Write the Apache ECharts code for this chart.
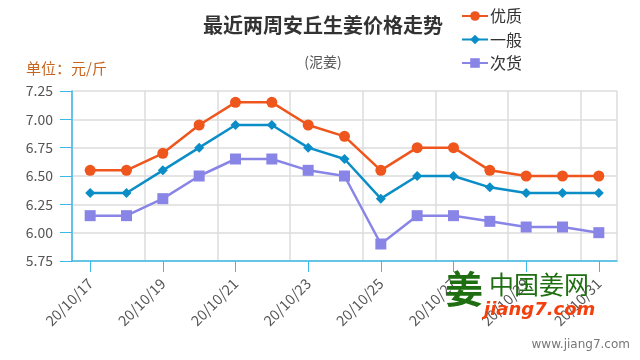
<!DOCTYPE html>
<html><head><meta charset="utf-8">
<script src="https://cdn.jsdelivr.net/npm/echarts@6/dist/echarts.min.js"></script>
<style>html,body{margin:0;padding:0;background:#fff}#c{width:640px;height:360px}</style>
</head><body><div id="c"></div>
<script>
const categories = ['20/10/17','20/10/18','20/10/19','20/10/20','20/10/21','20/10/22','20/10/23','20/10/24','20/10/25','20/10/26','20/10/27','20/10/28','20/10/29','20/10/30','20/10/31'];
const seriesNames = ['优质','一般','次货'];
const youzhi = [6.55,6.55,6.70,6.95,7.15,7.15,6.95,6.85,6.55,6.75,6.75,6.55,6.50,6.50,6.50];
const yiban  = [6.35,6.35,6.55,6.75,6.95,6.95,6.75,6.65,6.30,6.50,6.50,6.40,6.35,6.35,6.35];
const cihuo  = [6.15,6.15,6.30,6.50,6.65,6.65,6.55,6.50,5.90,6.15,6.15,6.10,6.05,6.05,6.00];
const yTicks = [5.75,6.00,6.25,6.50,6.75,7.00,7.25];

const FONT = '"Noto Sans CJK SC", "Noto Sans", sans-serif';
const chart = echarts.init(document.getElementById('c'), null, {renderer:'canvas'});
chart.setOption({
  animation:false,
  textStyle:{fontFamily:FONT},
  title:[
    {text:'最近两周安丘生姜价格走势', left:318, textAlign:'center', top:10,
     textStyle:{fontSize:20, fontWeight:'bold', color:'#333', fontFamily:FONT}},
    {text:'(泥姜)', left:318, textAlign:'center', top:50,
     textStyle:{fontSize:14, fontWeight:'normal', color:'#555', fontFamily:FONT}},
    {text:'单位：元/斤', left:21, top:56,
     textStyle:{fontSize:15, fontWeight:'normal', color:'#c8641e', fontFamily:FONT}}
  ],
  legend:{
    orient:'vertical', left:456, top:3, itemWidth:26, itemHeight:12, itemGap:7.5,
    data:seriesNames,
    textStyle:{fontSize:16, color:'#333', fontFamily:FONT, padding:[0,0,0,-3]}
  },
  grid:{left:72, right:23, top:91, bottom:99, containLabel:false},
  xAxis:{
    type:'category', data:categories, boundaryGap:true,
    axisLine:{show:true, lineStyle:{color:'#3cb9e8', width:1.5}},
    axisTick:{show:true, alignWithLabel:true, interval:1, length:11, lineStyle:{color:'#3cb9e8'}},
    axisLabel:{interval:1, rotate:45, color:'#555', fontSize:14.5, margin:20, fontFamily:FONT},
    splitLine:{show:true, interval:1, lineStyle:{color:'#dddddd', width:1.5}}
  },
  yAxis:{
    type:'value', min:yTicks[0], max:yTicks[yTicks.length-1], interval:0.25,
    axisLine:{show:true, lineStyle:{color:'#3cb9e8', width:1.5}},
    axisTick:{show:true, length:12, lineStyle:{color:'#3cb9e8'}},
    axisLabel:{color:'#555', fontSize:14, margin:19, formatter:v=>v.toFixed(2), fontFamily:FONT},
    splitLine:{show:true, lineStyle:{color:'#dddddd', width:1.5}}
  },
  series:[
    {name:seriesNames[0], type:'line', data:youzhi, symbol:'circle', symbolSize:11,
     itemStyle:{color:'#ef561d'}, lineStyle:{width:2.5, color:'#ef561d'}},
    {name:seriesNames[1], type:'line', data:yiban, symbol:'diamond', symbolSize:10,
     itemStyle:{color:'#0b8dc7'}, lineStyle:{width:2.5, color:'#0b8dc7'}},
    {name:seriesNames[2], type:'line', data:cihuo, symbol:'rect', symbolSize:11,
     itemStyle:{color:'#8985e6'}, lineStyle:{width:2.5, color:'#8985e6'}}
  ],
  graphic:[
    {type:'text', left:445, top:270, z:100, style:{text:'姜', fill:'#1f6f12', font:'bold 38px "Noto Sans CJK SC"'}},
    {type:'text', left:489, top:272, z:100, style:{text:'中国姜网', fill:'#1f6f12', font:'25px "Noto Sans CJK SC"'}},
    {type:'text', left:484, top:301, z:100, style:{text:'jiang7.com', fill:'#f2400f', font:'italic bold 18px "DejaVu Sans"'}},
    {type:'text', right:10, top:339, z:100, style:{text:'www.jiang7.com', fill:'#777', font:'12px "DejaVu Sans"'}}
  ]
});
</script></body></html>
